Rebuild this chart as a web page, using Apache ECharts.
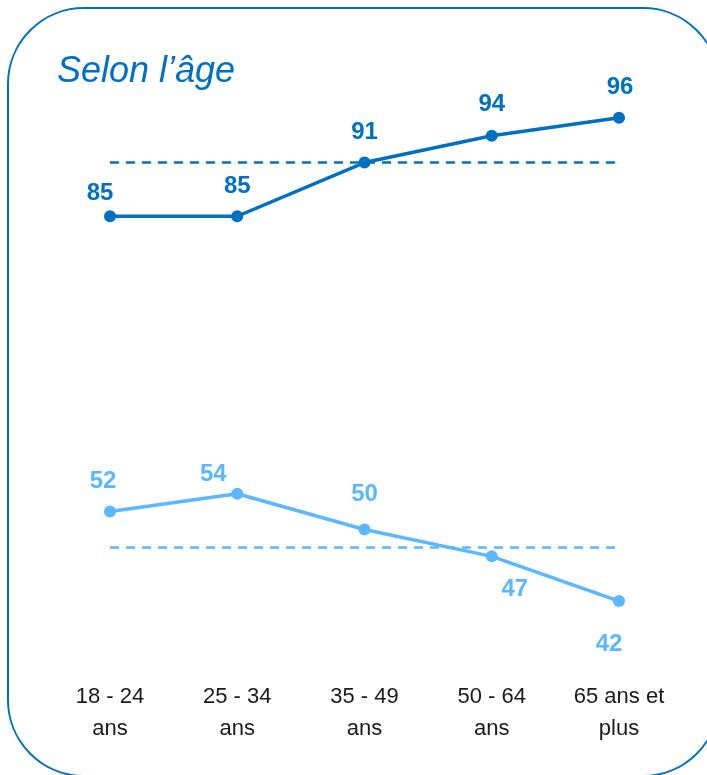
<!DOCTYPE html>
<html>
<head>
<meta charset="utf-8">
<script src="https://cdn.jsdelivr.net/npm/echarts@6/dist/echarts.min.js"></script>
<style>
html,body{margin:0;padding:0;background:#fff;}
#chart{width:707px;height:775px;}
</style>
</head>
<body>
<div id="chart"></div>
<script>
const categories = ['18 - 24\nans', '25 - 34\nans', '35 - 49\nans', '50 - 64\nans', '65 ans et\nplus'];
const seriesHigh = [85, 85, 91, 94, 96];
const seriesLow = [52, 54, 50, 47, 42];
const refHigh = 91;
const refLow = 48;
const titleText = 'Selon l\u2019âge';

const DARK = '#0070C0';
const LIGHT = '#5BB8FF';
const FONT = '"Liberation Sans", Arial, sans-serif';

const highOffsets = [[-10, 7], [0, 0], [0, 0], [0, -1], [1, 0]];
const lowOffsets = [[-7, 0], [-24, 11], [0, -5], [23, 3], [-10, 13]];
const lowPos = ['top', 'top', 'top', 'bottom', 'bottom'];

function mkData(vals, offsets, color, positions) {
  return vals.map((v, i) => ({
    value: v,
    label: {
      show: true,
      position: positions ? positions[i] : 'top',
      offset: offsets[i],
      color: color,
      fontSize: 24,
      fontWeight: 'bold',
      fontFamily: FONT,
      distance: 12
    }
  }));
}

const chart = echarts.init(document.getElementById('chart'), null, {renderer: 'canvas'});
chart.setOption({
  animation: false,
  graphic: [
    {
      type: 'rect',
      shape: {x: 8, y: 8, width: 711, height: 768, r: 76},
      style: {fill: 'none', stroke: DARK, lineWidth: 2},
      silent: true
    }
  ],
  title: {
    text: titleText,
    left: 52,
    top: 49,
    textStyle: {
      color: DARK,
      fontSize: 36,
      fontStyle: 'italic',
      fontWeight: 'normal',
      fontFamily: FONT
    }
  },
  grid: {left: 110, right: 88, top: 82, bottom: 156, containLabel: false},
  xAxis: {
    type: 'category',
    data: categories,
    boundaryGap: false,
    axisLine: {show: false},
    axisTick: {show: false},
    splitLine: {show: false},
    axisLabel: {
      margin: 62,
      color: '#1a1a1a',
      fontSize: 22,
      lineHeight: 32,
      fontFamily: FONT,
      interval: 0
    }
  },
  yAxis: {
    type: 'value',
    min: 40,
    max: 100,
    show: false,
    splitLine: {show: false}
  },
  series: [
    {
      type: 'line',
      data: mkData(seriesHigh, highOffsets, DARK),
      symbol: 'circle',
      symbolSize: 12,
      lineStyle: {color: DARK, width: 3.5},
      itemStyle: {color: DARK},
      markLine: {
        silent: true,
        symbol: 'none',
        label: {show: false},
        lineStyle: {color: DARK, type: [9, 7], width: 2.5},
        data: [{yAxis: refHigh}]
      },
      z: 3
    },
    {
      type: 'line',
      data: mkData(seriesLow, lowOffsets, LIGHT, lowPos),
      symbol: 'circle',
      symbolSize: 12,
      lineStyle: {color: LIGHT, width: 3.5},
      itemStyle: {color: LIGHT},
      markLine: {
        silent: true,
        symbol: 'none',
        label: {show: false},
        lineStyle: {color: LIGHT, type: [9, 7], width: 2.5},
        data: [{yAxis: refLow}]
      },
      z: 3
    }
  ]
});
</script>
</body>
</html>
